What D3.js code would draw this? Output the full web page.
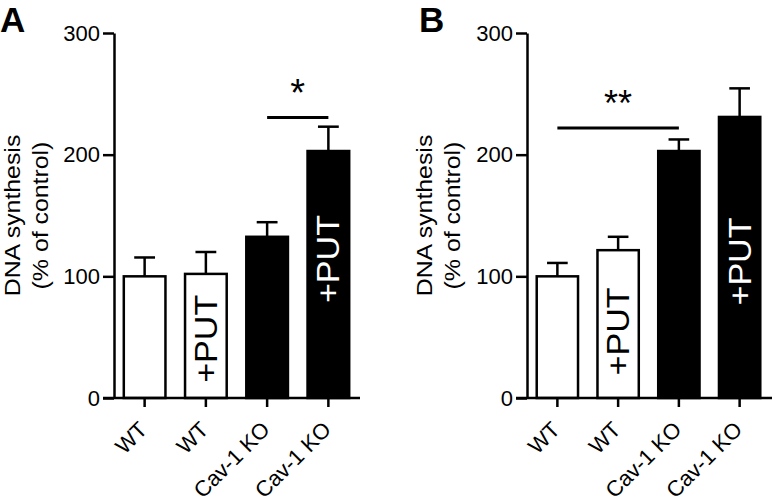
<!DOCTYPE html>
<html>
<head>
<meta charset="utf-8">
<script src="https://cdn.jsdelivr.net/npm/d3@7"></script>
<style>
  body { margin: 0; background: #fff; }
  text { font-family: "Liberation Sans", Arial, sans-serif; }
</style>
</head>
<body>
<div id="chart"></div>
<script>
// data
const categories = ["WT", "WT", "Cav-1 KO", "Cav-1 KO"];
const treatment = ["", "+PUT", "", "+PUT"];
const yTicks = [0, 100, 200, 300];

// panel A
const meanA = [100, 102, 132.5, 203];
const semA = [15.5, 18, 12, 20];
const sigA = { from: 2, to: 3, value: 230.5, label: "*" };

// panel B
const meanB = [100, 121.5, 203, 231];
const semB = [11, 11, 9.5, 23.5];
const sigB = { from: 0, to: 2, value: 222, label: "**" };

// where the +PUT text starts (in y units)
const putStartA = [0, 12.5, 0, 78];
const putStartB = [0, 18.5, 0, 76];

const W = 772, H = 503;
const svg = d3.select("#chart").append("svg")
  .attr("width", W).attr("height", H);

const y = d3.scaleLinear().domain([0, 300]).range([398, 33]);

function drawPanel(opt) {
  const g = svg.append("g");
  const x = d3.scaleBand()
    .domain(d3.range(categories.length))
    .range([opt.x0, opt.x1])
    .paddingInner(0.32)
    .paddingOuter(0.16);
  const bw = x.bandwidth();

  // bars
  g.selectAll("rect.bar").data(opt.mean).enter().append("rect")
    .attr("class", "bar")
    .attr("x", (d, i) => x(i))
    .attr("y", d => y(d))
    .attr("width", bw)
    .attr("height", d => y(0) - y(d))
    .attr("fill", (d, i) => categories[i] === "WT" ? "#fff" : "#000")
    .attr("stroke", "#000")
    .attr("stroke-width", 2.5);

  // error bars (upper only)
  opt.mean.forEach((m, i) => {
    const cx = x(i) + bw / 2;
    g.append("line")
      .attr("x1", cx).attr("x2", cx)
      .attr("y1", y(m)).attr("y2", y(m + opt.sem[i]))
      .attr("stroke", "#000").attr("stroke-width", 2.5);
    g.append("line")
      .attr("x1", cx - bw / 4).attr("x2", cx + bw / 4)
      .attr("y1", y(m + opt.sem[i])).attr("y2", y(m + opt.sem[i]))
      .attr("stroke", "#000").attr("stroke-width", 2.5);
  });

  // +PUT labels inside bars
  treatment.forEach((t, i) => {
    if (!t) return;
    const cx = x(i) + bw / 2 + 11;
    g.append("text")
      .attr("transform", `translate(${cx},${y(opt.putStart[i])}) rotate(-90) scale(1.1,1)`)
      .attr("font-size", 31)
      .attr("fill", categories[i] === "WT" ? "#000" : "#fff")
      .text(t);
  });

  // y axis
  const ya = g.append("g")
    .attr("transform", `translate(${opt.x0},0)`)
    .call(d3.axisLeft(y).tickValues(yTicks).tickSize(11).tickSizeOuter(0).tickPadding(3));
  ya.select(".domain").attr("stroke-width", 2.5);
  ya.selectAll(".tick line").attr("stroke-width", 2.5);
  ya.selectAll(".tick text").attr("font-size", 22).attr("font-family", "Liberation Sans, Arial, sans-serif");

  // x axis
  const xa = g.append("g")
    .attr("transform", `translate(0,${y(0)})`)
    .call(d3.axisBottom(x).tickSize(9).tickSizeOuter(0).tickFormat(""));
  xa.select(".domain").remove();
  xa.selectAll(".tick line").attr("stroke-width", 2.5);
  g.append("line")
    .attr("x1", opt.x0 - 11).attr("x2", opt.axisEnd)
    .attr("y1", y(0)).attr("y2", y(0))
    .attr("stroke", "#000").attr("stroke-width", 2.5);

  // rotated category labels
  g.selectAll("text.cat").data(categories).enter().append("text")
    .attr("class", "cat")
    .attr("text-anchor", "end")
    .attr("font-size", 22)
    .attr("transform", (d, i) => `translate(${x(i) + bw / 2 + 4},${y(0) + 33}) rotate(-45)`)
    .text(d => d);

  // y axis title
  const ly = (y(0) + y(300)) / 2;
  [["DNA synthesis", 0], ["(% of control)", 28]].forEach(([s, off]) => {
    g.append("text")
      .attr("text-anchor", "middle")
      .attr("font-size", 22)
      .attr("transform", `translate(${opt.labelX + off},${ly}) rotate(-90) scale(1.13,1)`)
      .text(s);
  });

  // significance
  const s = opt.sig;
  const sx1 = x(s.from) + bw / 2, sx2 = x(s.to) + bw / 2;
  g.append("line")
    .attr("x1", sx1).attr("x2", sx2)
    .attr("y1", y(s.value)).attr("y2", y(s.value))
    .attr("stroke", "#000").attr("stroke-width", 3);
  g.append("text")
    .attr("x", (sx1 + sx2) / 2)
    .attr("y", y(s.value) - 12)
    .attr("text-anchor", "middle")
    .attr("font-size", opt.starSize)
    .text(s.label);

  // panel letter
  g.append("text")
    .attr("x", opt.letterX).attr("y", 32)
    .attr("font-size", 35).attr("font-weight", "bold")
    .attr("font-family", "Liberation Sans, Arial, sans-serif")
    .text(opt.letter);
}

drawPanel({ x0: 114, x1: 359, axisEnd: 360, mean: meanA, sem: semA, sig: sigA,
  putStart: putStartA, labelX: 20, letter: "A", letterX: 0, starSize: 38 });
drawPanel({ x0: 527, x1: 770, axisEnd: 772, mean: meanB, sem: semB, sig: sigB,
  putStart: putStartB, labelX: 432, letter: "B", letterX: 419, starSize: 36 });
</script>
</body>
</html>
